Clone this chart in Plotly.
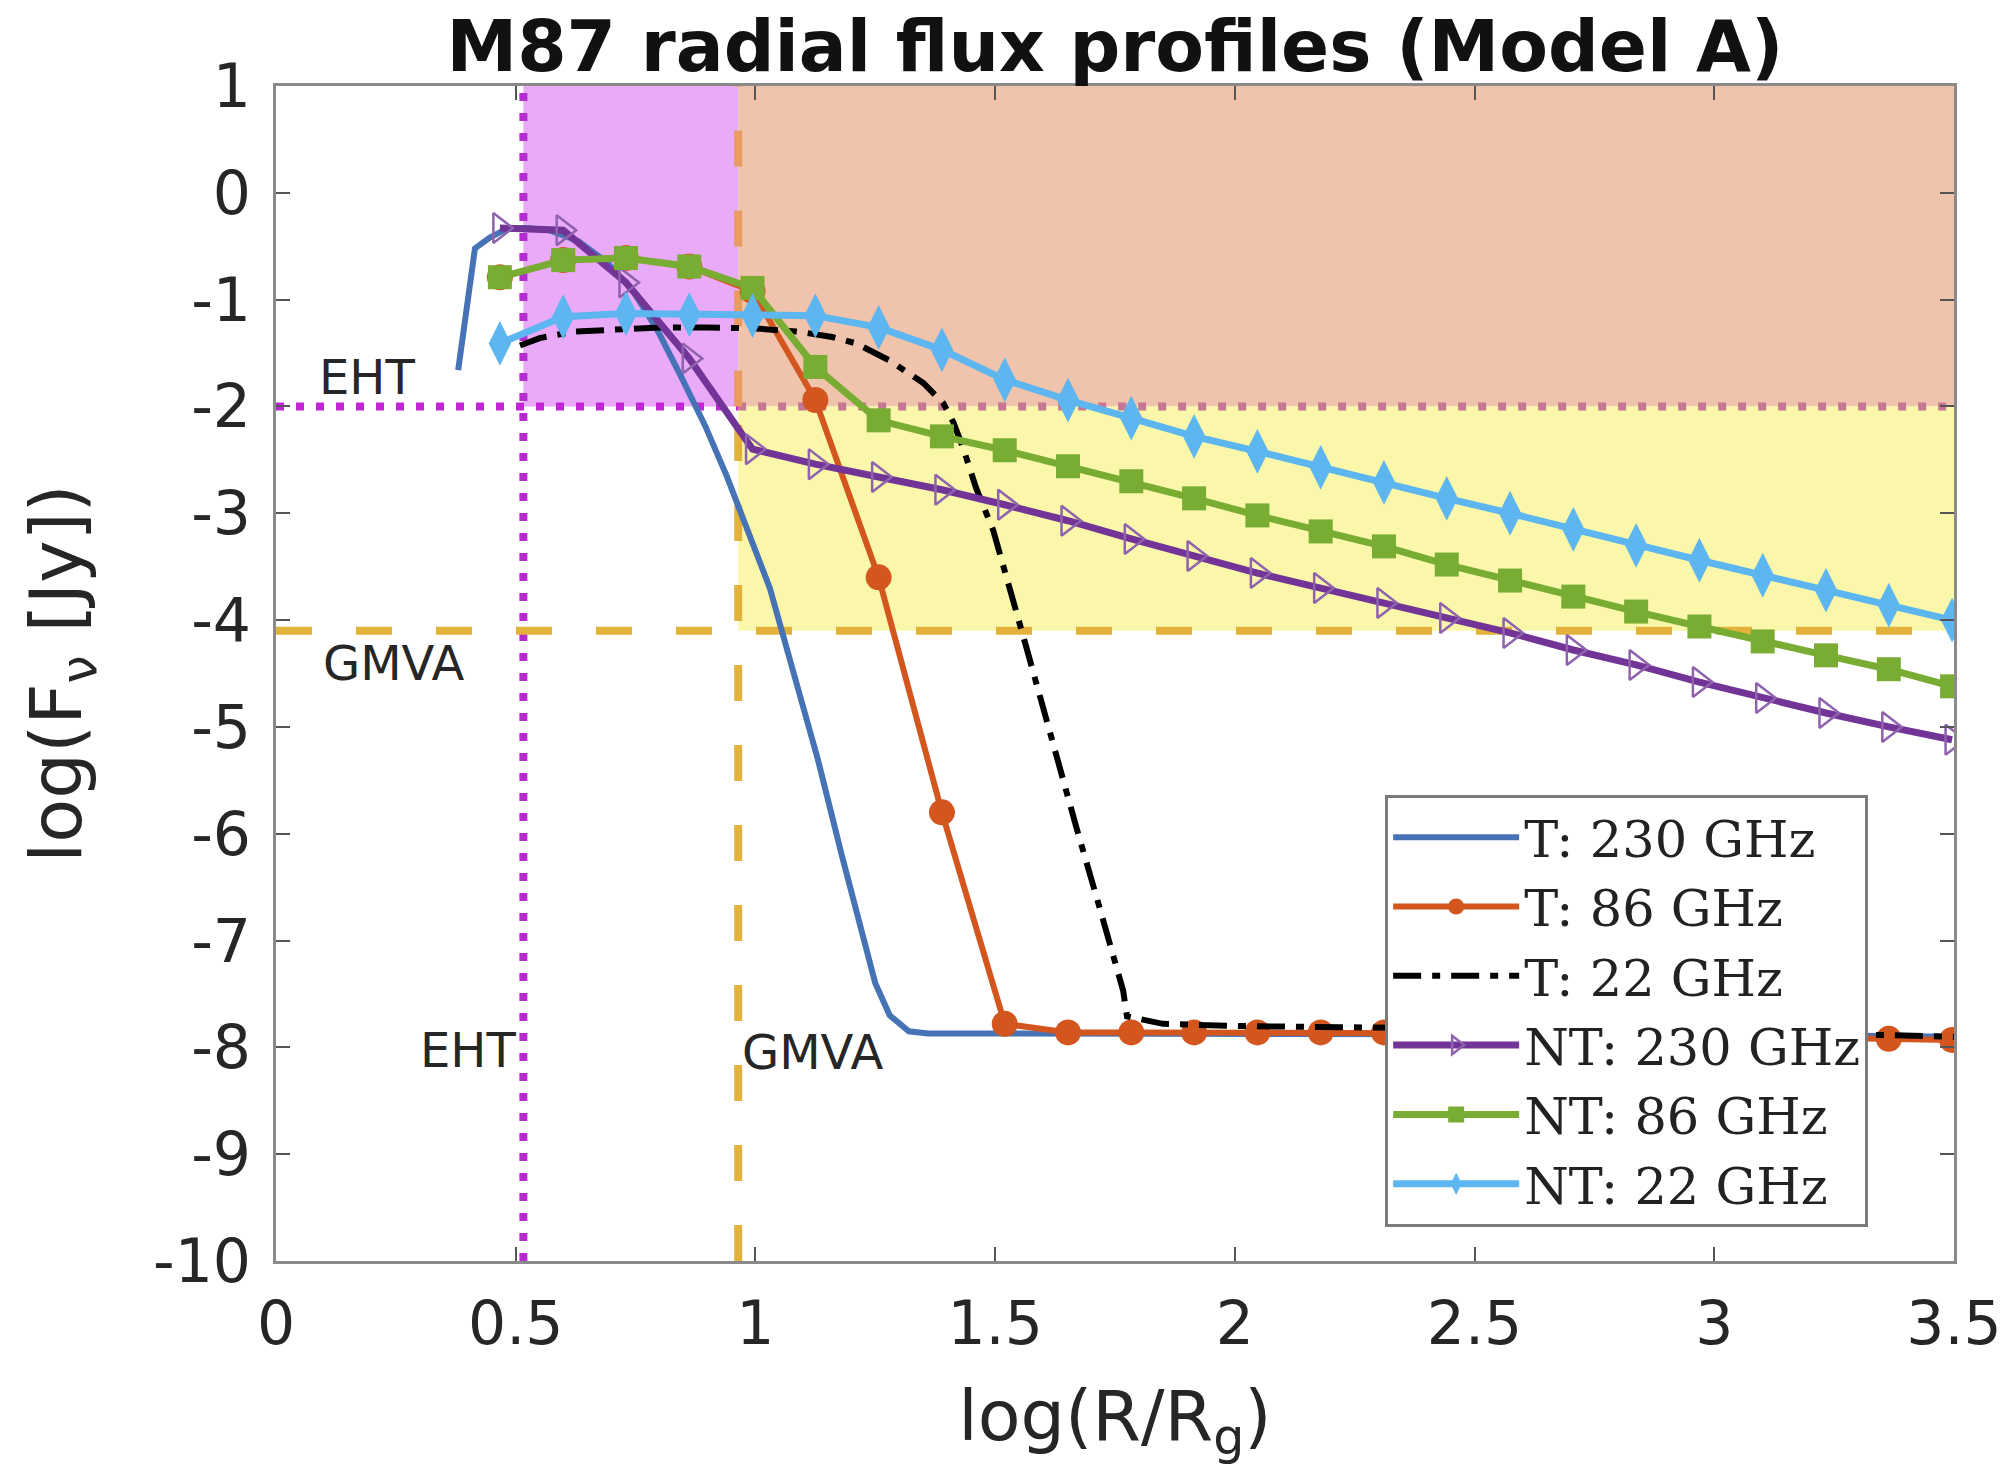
import plotly.graph_objects as go

# ---------------- data ----------------
x_grid = [0.467, 0.599, 0.730, 0.862, 0.994, 1.125, 1.257, 1.389, 1.520, 1.652,
          1.784, 1.915, 2.047, 2.179, 2.311, 2.442, 2.574, 2.706, 2.837, 2.969,
          3.101, 3.233, 3.364, 3.496]

# thermal 230 GHz (smooth curve, no markers)
t230_x = [0.380, 0.415, 0.446, 0.480, 0.520, 0.570, 0.630, 0.690, 0.745, 0.795,
          0.845, 0.895, 0.940, 0.990, 1.030, 1.080, 1.130, 1.180, 1.220, 1.250,
          1.280, 1.320, 1.360, 1.600, 2.000, 2.500, 3.000, 3.500]
t230_y = [-1.66, -0.52, -0.42, -0.34, -0.33, -0.35, -0.45, -0.65, -0.92, -1.28,
          -1.72, -2.18, -2.65, -3.25, -3.70, -4.50, -5.30, -6.20, -6.90, -7.40,
          -7.70, -7.85, -7.87, -7.87, -7.87, -7.87, -7.88, -7.90]

# thermal 86 GHz (on x_grid)
t86_y = [-0.79, -0.63, -0.61, -0.69, -0.92, -1.94, -3.60, -5.80, -7.78, -7.86,
         -7.86, -7.86, -7.86, -7.86, -7.86, -7.87, -7.87, -7.88, -7.88, -7.89,
         -7.90, -7.91, -7.92, -7.93]

# thermal 22 GHz (smooth dash-dot curve)
t22_x = [0.509, 0.550, 0.620, 0.690, 0.800, 0.900, 1.000, 1.090, 1.160, 1.210,
         1.280, 1.350, 1.392, 1.413, 1.434, 1.460, 1.496, 1.566, 1.608, 1.670,
         1.719, 1.767, 1.775, 1.850, 2.000, 2.500, 3.000, 3.500]
t22_y = [-1.43, -1.36, -1.30, -1.28, -1.26, -1.26, -1.27, -1.30, -1.35, -1.41,
         -1.57, -1.78, -1.97, -2.15, -2.40, -2.76, -3.16, -4.27, -4.96, -5.95,
         -6.71, -7.47, -7.71, -7.78, -7.80, -7.82, -7.85, -7.90]

# non-thermal (on x_grid)
nt230_y = [-0.33, -0.35, -0.84, -1.55, -2.40, -2.54, -2.66, -2.78, -2.92, -3.07,
           -3.24, -3.40, -3.56, -3.70, -3.84, -3.98, -4.12, -4.28, -4.42, -4.58,
           -4.73, -4.87, -5.00, -5.12]
nt86_y = [-0.79, -0.63, -0.61, -0.69, -0.89, -1.63, -2.13, -2.28, -2.41, -2.56,
          -2.70, -2.86, -3.02, -3.17, -3.31, -3.48, -3.63, -3.78, -3.92, -4.06,
          -4.20, -4.33, -4.46, -4.62]
nt22_y = [-1.41, -1.16, -1.13, -1.14, -1.15, -1.15, -1.26, -1.47, -1.75, -1.94,
          -2.11, -2.28, -2.42, -2.57, -2.71, -2.86, -3.00, -3.15, -3.30, -3.44,
          -3.58, -3.72, -3.86, -4.00]

series_names = ["T: 230 GHz", "T: 86 GHz", "T: 22 GHz",
                "NT: 230 GHz", "NT: 86 GHz", "NT: 22 GHz"]

x_tickvals = [0, 0.5, 1, 1.5, 2, 2.5, 3, 3.5]
x_ticktext = ["0", "0.5", "1", "1.5", "2", "2.5", "3", "3.5"]
y_tickvals = [-10, -9, -8, -7, -6, -5, -4, -3, -2, -1, 0, 1]
y_ticktext = ["-10", "-9", "-8", "-7", "-6", "-5", "-4", "-3", "-2", "-1", "0", "1"]

# sensitivity limits
EHT_X = 0.516
GMVA_X = 0.964
EHT_Y = -2.0
GMVA_Y = -4.1
X_MIN, X_MAX = 0.0, 3.5
Y_MIN, Y_MAX = -10.0, 1.0

# ---------------- figure ----------------
fig = go.Figure()

fig.add_trace(go.Scatter(x=t230_x, y=t230_y, mode="lines", name=series_names[0],
                         line=dict(color="#4673B5", width=6)))
fig.add_trace(go.Scatter(x=x_grid, y=t86_y, mode="lines+markers", name=series_names[1],
                         line=dict(color="#D4561F", width=6),
                         marker=dict(symbol="circle", size=26, color="#D4561F")))
fig.add_trace(go.Scatter(x=t22_x, y=t22_y, mode="lines", name=series_names[2],
                         line=dict(color="#000000", width=6, dash="28px,11px,8px,11px")))
fig.add_trace(go.Scatter(x=x_grid, y=nt230_y, mode="lines+markers", name=series_names[3],
                         line=dict(color="#723496", width=7),
                         marker=dict(symbol="triangle-right-open", size=26,
                                     color="#8F62AD", line=dict(width=2.5, color="#8F62AD"))))
fig.add_trace(go.Scatter(x=x_grid, y=nt86_y, mode="lines+markers", name=series_names[4],
                         line=dict(color="#78AC32", width=7),
                         marker=dict(symbol="square", size=24, color="#78AC32")))
fig.add_trace(go.Scatter(x=x_grid, y=nt22_y, mode="lines+markers", name=series_names[5],
                         line=dict(color="#5DB6F0", width=7),
                         marker=dict(symbol="diamond-tall", size=32, color="#5DB6F0")))

shapes = [
    # shaded regions
    dict(type="rect", xref="x", yref="y", x0=EHT_X, x1=GMVA_X, y0=EHT_Y, y1=Y_MAX,
         fillcolor="#E9AAF7", line=dict(width=0), layer="below"),
    dict(type="rect", xref="x", yref="y", x0=GMVA_X, x1=X_MAX, y0=EHT_Y, y1=Y_MAX,
         fillcolor="#EFC3AC", line=dict(width=0), layer="below"),
    dict(type="rect", xref="x", yref="y", x0=GMVA_X, x1=X_MAX, y0=GMVA_Y, y1=EHT_Y,
         fillcolor="#FAF7AA", line=dict(width=0), layer="below"),
    # EHT limits (dotted)
    dict(type="line", xref="x", yref="y", x0=X_MIN, x1=GMVA_X, y0=EHT_Y, y1=EHT_Y,
         line=dict(color="#C424D8", width=8, dash="8px,12px"), layer="below"),
    dict(type="line", xref="x", yref="y", x0=GMVA_X, x1=X_MAX, y0=EHT_Y, y1=EHT_Y,
         line=dict(color="#C77794", width=8, dash="8px,12px"), layer="below"),
    dict(type="line", xref="x", yref="y", x0=EHT_X, x1=EHT_X, y0=Y_MIN, y1=Y_MAX,
         line=dict(color="#B52BD0", width=8, dash="8px,12px"), layer="below"),
    # GMVA limits (dashed)
    dict(type="line", xref="x", yref="y", x0=X_MIN, x1=X_MAX, y0=GMVA_Y, y1=GMVA_Y,
         line=dict(color="#E3B23C", width=8, dash="36px,44px"), layer="below"),
    dict(type="line", xref="x", yref="y", x0=GMVA_X, x1=GMVA_X, y0=Y_MIN, y1=EHT_Y,
         line=dict(color="#E3B23C", width=8, dash="36px,44px"), layer="below"),
    dict(type="line", xref="x", yref="y", x0=GMVA_X, x1=GMVA_X, y0=EHT_Y, y1=Y_MAX,
         line=dict(color="#E99C5E", width=8, dash="36px,44px"), layer="below"),
]

ann_font = dict(family="DejaVu Sans", size=48, color="#262626")
annotations = [
    dict(x=0.19, y=-1.72, xref="x", yref="y", text="EHT", showarrow=False, font=ann_font),
    dict(x=0.245, y=-4.40, xref="x", yref="y", text="GMVA", showarrow=False, font=ann_font),
    dict(x=0.40, y=-8.02, xref="x", yref="y", text="EHT", showarrow=False, font=ann_font),
    dict(x=1.12, y=-8.04, xref="x", yref="y", text="GMVA", showarrow=False, font=ann_font),
]

axis_common = dict(showgrid=False, zeroline=False, showline=True, linecolor="#8A8A8A",
                   linewidth=3, mirror="ticks", ticks="inside", ticklen=14,
                   tickwidth=2, tickcolor="#555555",
                   tickfont=dict(family="DejaVu Sans", size=60, color="#262626"))

fig.update_layout(
    width=2014, height=1472,
    margin=dict(l=276, r=60, t=86, b=211, autoexpand=False),
    paper_bgcolor="white", plot_bgcolor="white",
    title=dict(text="<b>M87 radial flux profiles (Model A)</b>", x=0.5, xref="paper",
               xanchor="center", y=0.9685, yref="container", yanchor="middle",
               font=dict(family="DejaVu Sans", size=71, color="#111111")),
    xaxis=dict(range=[X_MIN, X_MAX], tickvals=x_tickvals, ticktext=x_ticktext,
               ticklabelstandoff=8,
               title=dict(text="log(R/R<sub>g</sub>)", standoff=34,
                          font=dict(family="DejaVu Sans", size=70, color="#262626")),
               **axis_common),
    yaxis=dict(range=[Y_MIN, Y_MAX], tickvals=y_tickvals, ticktext=y_ticktext,
               ticklabelstandoff=10,
               title=dict(text="log(F<sub>ν</sub> [Jy])", standoff=48,
                          font=dict(family="DejaVu Sans", size=72, color="#262626")),
               **axis_common),
    legend=dict(x=0.661, y=0.397, xanchor="left", yanchor="top",
                bgcolor="white", bordercolor="#7A7A7A", borderwidth=3,
                font=dict(family="DejaVu Serif", size=51, color="#222222"),
                itemwidth=126, tracegroupgap=0),
    shapes=shapes,
    annotations=annotations,
    showlegend=True,
)

fig.write_html("out.html")
